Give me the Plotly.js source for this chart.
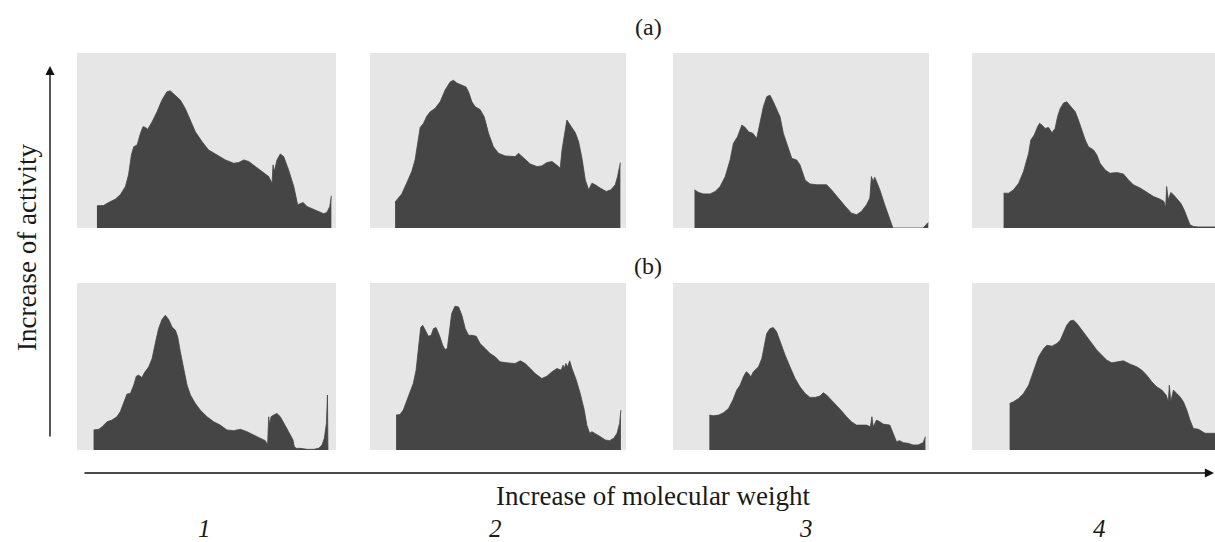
<!DOCTYPE html>
<html>
<head>
<meta charset="utf-8">
<script src="https://cdn.plot.ly/plotly-3.0.1.min.js"></script>
<style>
html,body{margin:0;padding:0;background:#fff;}
#chart{width:1215px;height:542px;}
</style>
</head>
<body>
<div id="chart"></div>
<script>
// Relative molecular-weight position (0-100 across each frame) and relative activity (0-100 of frame height)
const a1x = [7.7,10.3,12.2,14.8,16.7,18.7,19.9,21.0,21.9,23.2,24.5,25.5,26.4,27.3,29.0,30.9,32.8,34.7,36.0,38.0,39.9,41.8,43.8,45.7,48.3,50.8,54.1,57.3,60.5,62.4,64.4,66.3,68.9,71.4,74.0,75.3,75.7,76.2,77.2,78.5,79.8,81.7,83.7,85.2,86.2,87.3,88.8,91.4,93.3,95.2,96.5,97.6,98.2];
const a1y = [12.7,12.9,14.6,16.5,19.0,23.7,30.4,41.7,46.5,47.4,54.1,57.9,57.5,56.4,60.7,66.4,73.1,77.8,78.4,75.9,73.1,68.3,61.7,55.0,49.3,44.6,41.7,38.9,37.0,37.4,38.9,38.0,35.1,32.3,29.4,25.6,36.1,32.3,38.9,42.3,40.8,33.2,23.7,13.3,13.9,14.6,12.3,10.8,9.5,8.2,8.9,12.3,18.4];

const a2x = [9.8,11.1,12.4,14.3,16.3,17.6,18.5,19.6,20.9,22.2,23.5,25.4,27.4,29.3,31.3,32.6,33.9,35.9,37.5,38.5,39.8,41.1,43.0,44.6,46.3,48.2,50.2,52.8,56.7,58.0,60.0,62.6,65.2,67.1,69.1,71.1,72.8,74.3,75.0,75.9,76.9,78.2,80.2,81.5,82.8,84.1,85.4,86.7,88.0,89.9,92.3,94.1,95.8,96.7,97.5,97.8];
const a2y = [14.8,17.1,19.5,25.6,32.3,38.9,48.4,57.5,59.8,63.9,66.4,68.3,72.1,78.7,83.5,84.4,82.9,81.6,80.6,77.8,72.1,69.3,67.7,63.6,54.1,46.5,42.7,41.2,40.8,42.7,39.8,36.6,35.1,35.5,37.4,38.0,36.1,34.2,44.6,54.1,61.7,58.8,54.5,49.3,39.8,27.5,21.8,25.6,24.7,22.8,20.9,21.8,24.7,29.4,37.0,37.4];

const a3x = [8.4,10.0,11.9,14.5,16.5,18.4,20.4,22.3,23.6,25.2,26.9,28.2,29.5,31.2,32.7,34.0,35.3,36.6,37.9,39.2,40.5,41.8,43.1,45.1,46.4,48.3,49.6,51.6,53.5,56.1,60.0,61.9,64.5,67.1,69.7,71.7,73.6,75.6,76.9,77.5,78.2,78.8,79.5,80.8,82.7,84.7,85.9,97.7,98.7,99.7];
const a3y = [21.8,20.3,19.5,19.5,20.9,23.7,29.4,38.9,48.4,52.2,58.8,57.5,55.0,54.1,51.2,59.8,69.3,75.0,75.9,72.1,68.3,63.6,54.1,44.6,39.8,38.9,36.1,27.5,25.2,24.7,24.7,21.8,17.1,12.7,8.5,7.6,9.5,13.3,17.1,29.4,26.6,29.0,26.6,21.8,13.3,5.7,0,0,1.9,3.2];

const a4x = [13.0,15.1,17.1,19.2,21.2,23.3,24.2,25.6,27.0,27.8,28.8,30.1,31.5,32.9,34.2,35.2,36.3,37.7,39.0,40.4,42.5,43.8,45.2,46.6,47.9,50.0,51.4,52.7,54.8,56.8,59.6,62.3,64.4,66.4,69.2,71.9,74.7,77.4,79.0,79.7,80.1,80.8,81.8,82.9,84.0,84.9,85.9,87.3,88.6,89.7,91.1,93.2,100];
const a4y = [19.9,19.9,21.8,25.6,32.3,42.7,50.3,53.1,57.9,59.8,58.8,56.9,57.5,54.5,56.9,63.6,68.3,71.5,72.1,69.6,66.4,61.7,56.0,50.3,46.5,44.6,41.7,37.0,33.2,31.3,31.7,30.9,27.5,24.7,22.8,20.3,18.0,16.5,15.2,11.4,23.7,16.1,20.3,19.0,17.1,16.1,14.2,10.4,5.7,1.9,0.9,0.6,0.6];

const b1x = [6.4,8.4,9.7,11.6,13.5,15.4,16.7,18.0,19.3,20.6,21.9,22.9,23.8,25.1,26.0,27.7,29.0,30.2,31.5,32.8,34.1,35.4,36.7,38.0,38.9,39.9,41.2,42.5,43.8,45.7,47.6,50.2,52.8,55.3,57.9,60.5,63.1,65.6,68.2,70.8,72.7,73.6,74.0,74.4,74.9,75.9,77.2,78.5,79.8,81.7,83.4,83.9,84.7,86.2,88.8,91.4,93.3,94.6,95.5,96.3,96.7,96.9];
const b1y = [12.0,12.4,13.9,16.9,17.9,19.9,22.9,28.9,33.5,33.9,38.8,44.2,44.8,43.4,46.2,49.8,54.8,63.7,72.7,78.1,80.7,78.1,73.7,71.7,67.7,58.8,47.8,38.8,32.9,27.9,23.9,19.9,16.9,14.9,12.0,11.6,12.4,11.0,9.0,7.0,5.6,3.0,19.9,14.9,19.9,20.9,21.9,19.9,15.9,11.0,6.0,2.0,1.0,1.0,0.4,0.4,1.0,3.0,7.0,15.9,32.9,0];

const b2x = [10.2,11.7,13.0,14.3,15.6,16.9,18.0,18.9,19.8,20.6,21.5,22.8,23.9,24.8,25.8,27.1,28.4,29.3,30.2,31.0,31.9,33.2,34.6,35.9,37.2,38.5,39.8,41.5,43.0,45.0,46.9,48.9,50.8,53.5,56.7,58.7,60.6,62.6,64.5,67.1,69.1,71.1,73.0,74.7,75.4,75.9,76.5,77.2,78.0,78.9,80.6,82.1,83.7,84.7,85.8,86.7,88.0,90.0,91.9,93.6,95.2,96.5,97.5,98.0];
const b2y = [20.9,21.3,23.9,28.9,33.9,39.8,47.8,59.8,73.3,74.7,71.7,68.1,68.7,72.7,73.3,68.7,62.7,60.2,60.8,69.7,81.7,86.1,85.7,80.7,72.7,68.7,68.7,68.1,63.7,60.8,57.8,55.8,52.8,52.2,51.8,53.4,51.8,48.8,45.8,42.8,44.2,46.8,48.8,47.8,50.8,48.8,51.8,49.8,53.4,48.8,41.8,33.9,23.9,14.9,10.0,11.0,10.0,8.0,6.0,5.6,7.0,10.0,15.9,23.9];

const b3x = [14.2,15.8,17.8,19.7,21.7,23.4,24.9,26.2,27.5,28.6,29.5,30.4,31.4,33.4,34.7,35.6,36.6,37.9,39.2,40.5,41.8,43.8,45.7,47.7,49.6,51.6,53.5,55.5,57.4,58.7,60.0,61.9,63.9,65.8,67.8,69.7,71.7,73.6,75.6,77.1,77.7,78.2,79.5,80.8,82.1,84.7,86.0,87.3,88.6,89.9,91.8,93.8,95.7,97.7,98.6];
const b3y = [20.9,20.5,20.9,22.3,24.9,29.9,35.9,38.8,43.8,46.8,45.8,43.8,46.8,49.8,54.8,62.7,69.7,72.7,73.3,70.7,64.7,56.8,49.8,42.8,37.8,33.9,31.5,31.5,32.3,34.3,32.9,29.9,26.9,23.5,19.9,16.9,14.9,14.9,14.9,13.9,19.9,13.9,17.9,16.9,15.5,14.9,10.0,5.0,5.6,4.4,4.0,3.0,3.0,4.4,8.0];

const b4x = [15.5,17.1,19.2,21.2,23.3,25.3,27.4,29.5,30.8,32.9,34.9,36.3,37.7,39.0,40.4,41.8,43.2,45.2,47.3,49.3,51.4,53.4,55.5,57.5,59.6,62.3,65.1,67.8,69.9,71.9,74.0,76.0,78.1,79.9,80.8,81.2,81.8,82.9,84.2,85.6,87.0,88.4,89.7,91.1,93.2,94.5,95.9,100];
const b4y = [27.9,28.9,30.9,33.9,38.8,47.8,55.8,60.8,62.7,62.2,63.7,65.7,70.7,74.7,77.3,77.7,75.7,71.7,67.7,63.7,59.8,56.8,53.8,52.2,52.8,53.4,51.4,49.8,47.8,44.8,40.8,37.8,35.9,32.9,28.9,38.8,28.9,35.9,33.9,31.9,28.9,23.9,17.9,12.9,12.4,11.4,10.0,10.0];

const sampleLabels = ['1','2','3','4'];
const rowLabels = ['(a)','(b)'];
const xTitle = 'Increase of molecular weight';
const yTitle = 'Increase of activity';

const W = 1215, H = 542;
const colPx = [[77,336],[370,626],[673,929],[972,1215]];
const rowPx = [[53,228],[283,450]];
const series = [[a1x,a1y],[a2x,a2y],[a3x,a3y],[a4x,a4y],[b1x,b1y],[b2x,b2y],[b3x,b3y],[b4x,b4y]];
const SERIF = 'Liberation Serif';

const traces = [];
const layout = {
  width: W, height: H,
  margin: {l:0,r:0,t:0,b:0,pad:0},
  paper_bgcolor: '#ffffff',
  plot_bgcolor: '#e6e6e6',
  showlegend: false,
  font: {family: SERIF, color: '#1a1a1a', size: 20},
  annotations: [], shapes: []
};
const px = v => v / W;
const py = v => 1 - v / H;

series.forEach((s, i) => {
  const r = Math.floor(i / 4), c = i % 4;
  const n = i + 1;
  const xa = n === 1 ? 'x' : 'x' + n;
  const ya = n === 1 ? 'y' : 'y' + n;
  traces.push({
    x: s[0], y: s[1], xaxis: xa, yaxis: ya,
    type: 'scatter', mode: 'lines', fill: 'tozeroy',
    line: {color: '#454545', width: 0.8},
    fillcolor: '#454545', hoverinfo: 'skip'
  });
  const axBase = {showgrid:false, zeroline:false, showticklabels:false, ticks:'', showline:false, fixedrange:true};
  layout[n === 1 ? 'xaxis' : 'xaxis' + n] = Object.assign({}, axBase, {
    domain: [px(colPx[c][0]), px(colPx[c][1])], range: [0, 100], anchor: ya
  });
  layout[n === 1 ? 'yaxis' : 'yaxis' + n] = Object.assign({}, axBase, {
    domain: [py(rowPx[r][1]), py(rowPx[r][0])], range: [0, 100], anchor: xa
  });
});

function txt(t, x, y, size, extra) {
  return Object.assign({text: t, x: px(x), y: py(y), xref:'paper', yref:'paper', showarrow:false,
    xanchor:'center', yanchor:'middle', font:{family: SERIF, size: size, color:'#1a1a1a'}}, extra || {});
}
// row labels
layout.annotations.push(txt(rowLabels[0], 648, 27, 24));
layout.annotations.push(txt(rowLabels[1], 648, 266, 24));
// axis titles
layout.annotations.push(txt(xTitle, 653, 496, 27));
layout.annotations.push(txt(yTitle, 27, 248, 27, {textangle:-90}));
// sample numbers
const numX = [204, 495, 806, 1099];
sampleLabels.forEach((t, k) => {
  layout.annotations.push(txt('<i>' + t + '</i>', numX[k], 528, 25));
});
// arrows
layout.annotations.push({text:'', x: px(50), y: py(66), xref:'paper', yref:'paper', showarrow:true, ax:0, ay:372, arrowhead:2, arrowsize:1.3, arrowwidth:1.4, arrowcolor:'#111'});
layout.annotations.push({text:'', x: px(1214), y: py(473), xref:'paper', yref:'paper', showarrow:true, ax:-1131, ay:0, arrowhead:2, arrowsize:1.3, arrowwidth:1.4, arrowcolor:'#111'});

Plotly.newPlot('chart', traces, layout, {staticPlot: true, displayModeBar: false});
</script>
</body>
</html>
